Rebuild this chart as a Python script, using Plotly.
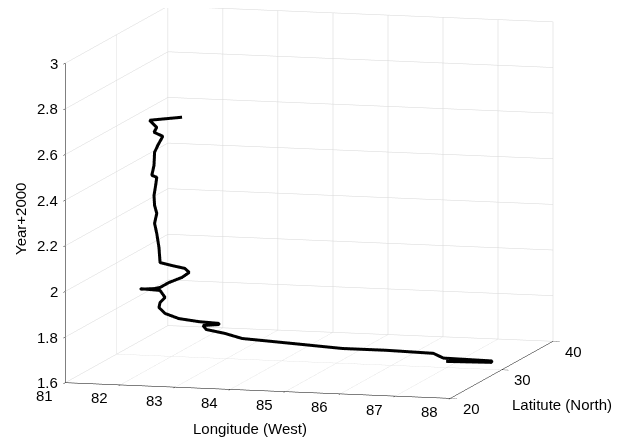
import plotly.graph_objects as go

# Track data (latitude depth assumed ~30)
lon = [86.99, 87.82, 87.82, 86.94, 86.76, 85.90, 85.11, 84.20, 83.28, 82.97,
       82.63, 82.57, 82.86, 82.86, 82.50, 82.13, 81.88, 81.77, 81.79, 81.88,
       81.79, 81.44, 81.44, 81.69, 81.79, 81.95, 82.19, 82.32, 82.24, 82.01,
       81.79, 81.77, 81.73, 81.69, 81.73, 81.69, 81.68, 81.71, 81.73, 81.64,
       81.68, 81.69, 81.75, 81.84, 81.68, 81.73, 81.60, 82.19]
lat = [30.0] * 48
year = [1.627, 1.631, 1.637, 1.641, 1.660, 1.665, 1.665, 1.678, 1.691, 1.710,
        1.724, 1.741, 1.748, 1.753, 1.757, 1.767, 1.787, 1.812, 1.834, 1.857,
        1.887, 1.891, 1.889, 1.894, 1.900, 1.923, 1.948, 1.971, 1.988, 1.998,
        2.009, 2.075, 2.136, 2.180, 2.224, 2.259, 2.302, 2.347, 2.382, 2.390,
        2.434, 2.491, 2.523, 2.563, 2.579, 2.601, 2.631, 2.650]

x_ticks = [81, 82, 83, 84, 85, 86, 87, 88]
y_ticks = [20, 30, 40]
z_ticks = [1.6, 1.8, 2.0, 2.2, 2.4, 2.6, 2.8, 3.0]
z_labels = ["1.6", "1.8", "2", "2.2", "2.4", "2.6", "2.8", "3"]

fig = go.Figure(go.Scatter3d(
    x=lon, y=lat, z=year, mode="lines",
    line=dict(color="black", width=6), hoverinfo="skip"))

font = dict(family="Liberation Sans, Arial, sans-serif", size=15, color="black")
axis_common = dict(showbackground=False, gridcolor="#d6d6d6", gridwidth=1,
                   showline=True, linecolor="black", linewidth=1,
                   ticks="outside", tickcolor="black", ticklen=7,
                   showticklabels=False, showspikes=False, zeroline=False,
                   title=dict(text=""))

# tick labels as scene annotations anchored at the tick positions
scene_ann = []
for v in x_ticks:
    scene_ann.append(dict(x=v, y=y_ticks[0], z=z_ticks[0], text=str(v),
                          showarrow=False, xanchor="center", yanchor="middle",
                          xshift=-21, yshift=-13, font=font))
for v in y_ticks:
    scene_ann.append(dict(x=x_ticks[-1], y=v, z=z_ticks[0], text=str(v),
                          showarrow=False, xanchor="center", yanchor="middle",
                          xshift=21, yshift=-10, font=font))
for v, t in zip(z_ticks, z_labels):
    scene_ann.append(dict(x=x_ticks[0], y=y_ticks[0], z=v, text=t,
                          showarrow=False, xanchor="right", yanchor="middle",
                          xshift=-5, yshift=0, font=font))

s = 1.97
fig.update_layout(
    width=623, height=445, paper_bgcolor="white",
    margin=dict(l=0, r=0, t=0, b=0),
    font=font, showlegend=False,
    scene=dict(
        domain=dict(x=[0, 0.985], y=[0.09, 1]),
        xaxis=dict(range=[81, 88], tickvals=x_ticks, **axis_common),
        yaxis=dict(range=[20, 40], tickvals=y_ticks, **axis_common),
        zaxis=dict(range=[1.6, 3], tickvals=z_ticks, **axis_common),
        aspectmode="manual", aspectratio=dict(x=1 * s, y=0.985 * s, z=0.81 * s),
        camera=dict(eye=dict(x=0.2724 * 2, y=-0.9511 * 2, z=0.130 * 2),
                    up=dict(x=0, y=0, z=1), center=dict(x=0.03, y=0, z=-0.04),
                    projection=dict(type="orthographic")),
        annotations=scene_ann,
    ),
    annotations=[
        dict(text="Longitude (West)", x=242 / 623, y=1 - 420 / 445),
        dict(text="Latitute (North)", x=554 / 623, y=1 - 396 / 445),
        dict(text="Year+2000", x=12 / 623, y=1 - 211 / 445, textangle=-90),
    ],
)
fig.update_annotations(xref="paper", yref="paper", showarrow=False, font=font,
                       xanchor="center", yanchor="middle")
fig.write_html("out.html")
